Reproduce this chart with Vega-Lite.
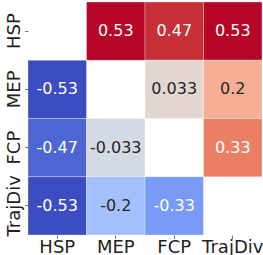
{
  "$schema": "https://vega.github.io/schema/vega-lite/v6.json",
  "width": 234,
  "height": 233,
  "autosize": {"type": "none"},
  "padding": {"left": 28, "top": 2, "right": 1, "bottom": 20},
  "background": "white",
  "data": {
    "values": [
      {"x": "MEP", "y": "HSP", "v": 0.53},
      {"x": "FCP", "y": "HSP", "v": 0.47},
      {"x": "TrajDiv", "y": "HSP", "v": 0.53},
      {"x": "HSP", "y": "MEP", "v": -0.53},
      {"x": "FCP", "y": "MEP", "v": 0.033},
      {"x": "TrajDiv", "y": "MEP", "v": 0.2},
      {"x": "HSP", "y": "FCP", "v": -0.47},
      {"x": "MEP", "y": "FCP", "v": -0.033},
      {"x": "TrajDiv", "y": "FCP", "v": 0.33},
      {"x": "HSP", "y": "TrajDiv", "v": -0.53},
      {"x": "MEP", "y": "TrajDiv", "v": -0.2},
      {"x": "FCP", "y": "TrajDiv", "v": -0.33}
    ]
  },
  "encoding": {
    "x": {
      "field": "x", "type": "nominal",
      "sort": ["HSP", "MEP", "FCP", "TrajDiv"],
      "scale": {"domain": ["HSP", "MEP", "FCP", "TrajDiv"], "paddingInner": 0, "paddingOuter": 0},
      "axis": {"title": null, "labelAngle": 0, "labelPadding": 0, "labelBaseline": "top"}
    },
    "y": {
      "field": "y", "type": "nominal",
      "sort": ["HSP", "MEP", "FCP", "TrajDiv"],
      "scale": {"domain": ["HSP", "MEP", "FCP", "TrajDiv"], "paddingInner": 0, "paddingOuter": 0},
      "axis": {"title": null, "labelAngle": 270, "labelAlign": "center", "labelBaseline": "bottom", "labelPadding": 1.5}
    }
  },
  "layer": [
    {
      "mark": {"type": "rect", "stroke": "white", "strokeWidth": 0.5, "strokeOpacity": 0.6},
      "encoding": {
        "color": {
          "field": "v", "type": "quantitative", "legend": null,
          "scale": {
            "domain": [-0.533, -0.4, -0.267, -0.133, 0, 0.133, 0.267, 0.4, 0.533],
            "range": ["#3b4cc0", "#6282ea", "#8db0fe", "#b8d0f9", "#dddddd", "#f5c4ad", "#f49a7b", "#de604d", "#b40426"],
            "interpolate": "rgb"
          }
        }
      }
    },
    {
      "mark": {"type": "text", "fontSize": 16, "font": "DejaVu Sans"},
      "encoding": {
        "text": {"field": "v", "type": "nominal"},
        "color": {"condition": {"test": "abs(datum.v) < 0.25", "value": "#262626"}, "value": "white"}
      }
    }
  ],
  "config": {
    "view": {"stroke": null},
    "axis": {
      "domain": false,
      "grid": false,
      "ticks": true,
      "tickSize": 3.5,
      "tickColor": "#555555",
      "tickWidth": 0.8,
      "labelFont": "DejaVu Sans",
      "labelFontSize": 18,
      "labelColor": "#222222",
      "labelOverlap": false,
      "labelBound": false,
      "labelFlush": false
    }
  }
}
